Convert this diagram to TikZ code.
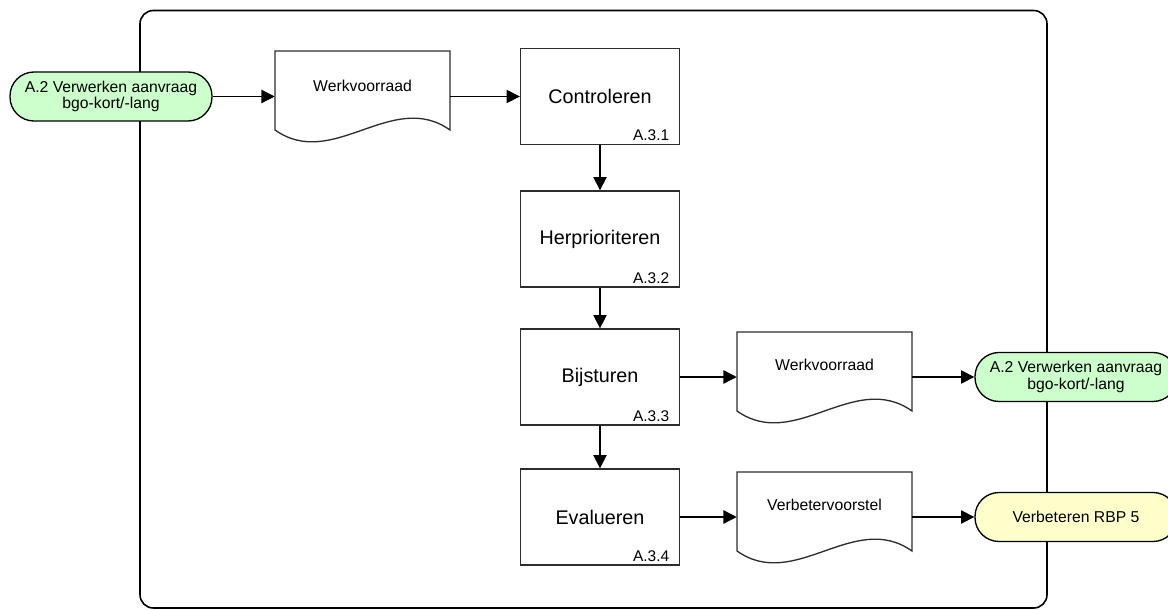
\documentclass[tikz,border=0pt]{standalone}
\usepackage{fontspec}
\setmainfont{Liberation Sans}
\usepackage{xcolor}
\usetikzlibrary{arrows.meta}

\definecolor{termgroen}{RGB}{204,255,204}
\definecolor{termgeel}{RGB}{255,255,204}
\definecolor{lijngrijs}{RGB}{45,45,45}

\tikzset{
  stap/.style={draw=lijngrijs, line width=1pt, minimum width=119.25pt, minimum height=72pt, inner sep=0pt, font=\fontsize{14.8}{16}\selectfont},
  stapnr/.style={anchor=south east, inner xsep=8pt, inner ysep=3pt, font=\fontsize{11.6}{13}\selectfont},
  term/.style={draw=black, line width=1pt, rounded corners=18pt, minimum width=151.5pt, minimum height=36.75pt, inner sep=0pt, align=center, font=\fontsize{11.8}{12.6}\selectfont},
  doc/.style={minimum width=131.25pt, minimum height=68.25pt, inner sep=0pt},
  doctekst/.style={inner sep=0pt, font=\fontsize{11.8}{13}\selectfont},
  docrand/.style={draw=lijngrijs, line width=1pt},
  pijl/.style={line width=1pt, -{Triangle[length=10pt,width=10pt]}},
}

\begin{document}
\begin{tikzpicture}[x=0.75pt,y=0.75pt,yscale=-1,xscale=1]
\useasboundingbox (0,0) rectangle (1168,610);

%Shape: Rounded Rectangle (frame)
\draw [line width=1.2pt, rounded corners=10pt] (140,10.5) rectangle (1047,608) ;

%Shape: Terminators
\node [term, fill=termgroen] (in) at (111,96.5) {A.2 Verwerken aanvraag\\bgo-kort/-lang};
\node [term, fill=termgroen] (uit) at (1076,377) {A.2 Verwerken aanvraag\\bgo-kort/-lang};
\node [term, fill=termgeel] (rbp) at (1076,517) {Verbeteren RBP 5};

%Shape: Process boxes
\node [stap] (ctl) at (600,96.5) {Controleren};
\node [stapnr] (ctlnr) at (ctl.south east) {A.3.1};
\node [stap] (hpr) at (600,239) {Herprioriteren};
\node [stapnr] (hprnr) at (hpr.south east) {A.3.2};
\node [stap] (bst) at (600,377) {Bijsturen};
\node [stapnr] (bstnr) at (bst.south east) {A.3.3};
\node [stap] (evl) at (600,517) {Evalueren};
\node [stapnr] (evlnr) at (evl.south east) {A.3.4};

%Shape: Documents
\draw [docrand] (275,51) -- (450,51) -- (450,130) .. controls (392,89) and (333,171) .. (275,130) -- cycle ;
\draw [docrand] (737,332) -- (912,332) -- (912,411) .. controls (854,370) and (795,452) .. (737,411) -- cycle ;
\draw [docrand] (737,472) -- (912,472) -- (912,551) .. controls (854,510) and (795,592) .. (737,551) -- cycle ;
\node [doc] (wv1) at (362.5,96.5) {};
\node [doc] (wv2) at (824.5,377) {};
\node [doc] (vbv) at (824.5,517) {};

% Text Node
\node [doctekst] (wv1t) at (362.5,86) {Werkvoorraad};
\node [doctekst] (wv2t) at (824.5,365) {Werkvoorraad};
\node [doctekst] (vbvt) at (824.5,505) {Verbetervoorstel};

%Straight Lines
\draw [pijl] (in) -- (wv1) ;
\draw [pijl] (wv1) -- (ctl) ;
\draw [pijl] (ctl) -- (hpr) ;
\draw [pijl] (hpr) -- (bst) ;
\draw [pijl] (bst) -- (evl) ;
\draw [pijl] (bst) -- (wv2) ;
\draw [pijl] (wv2) -- (uit) ;
\draw [pijl] (evl) -- (vbv) ;
\draw [pijl] (vbv) -- (rbp) ;

\end{tikzpicture}
\end{document}
